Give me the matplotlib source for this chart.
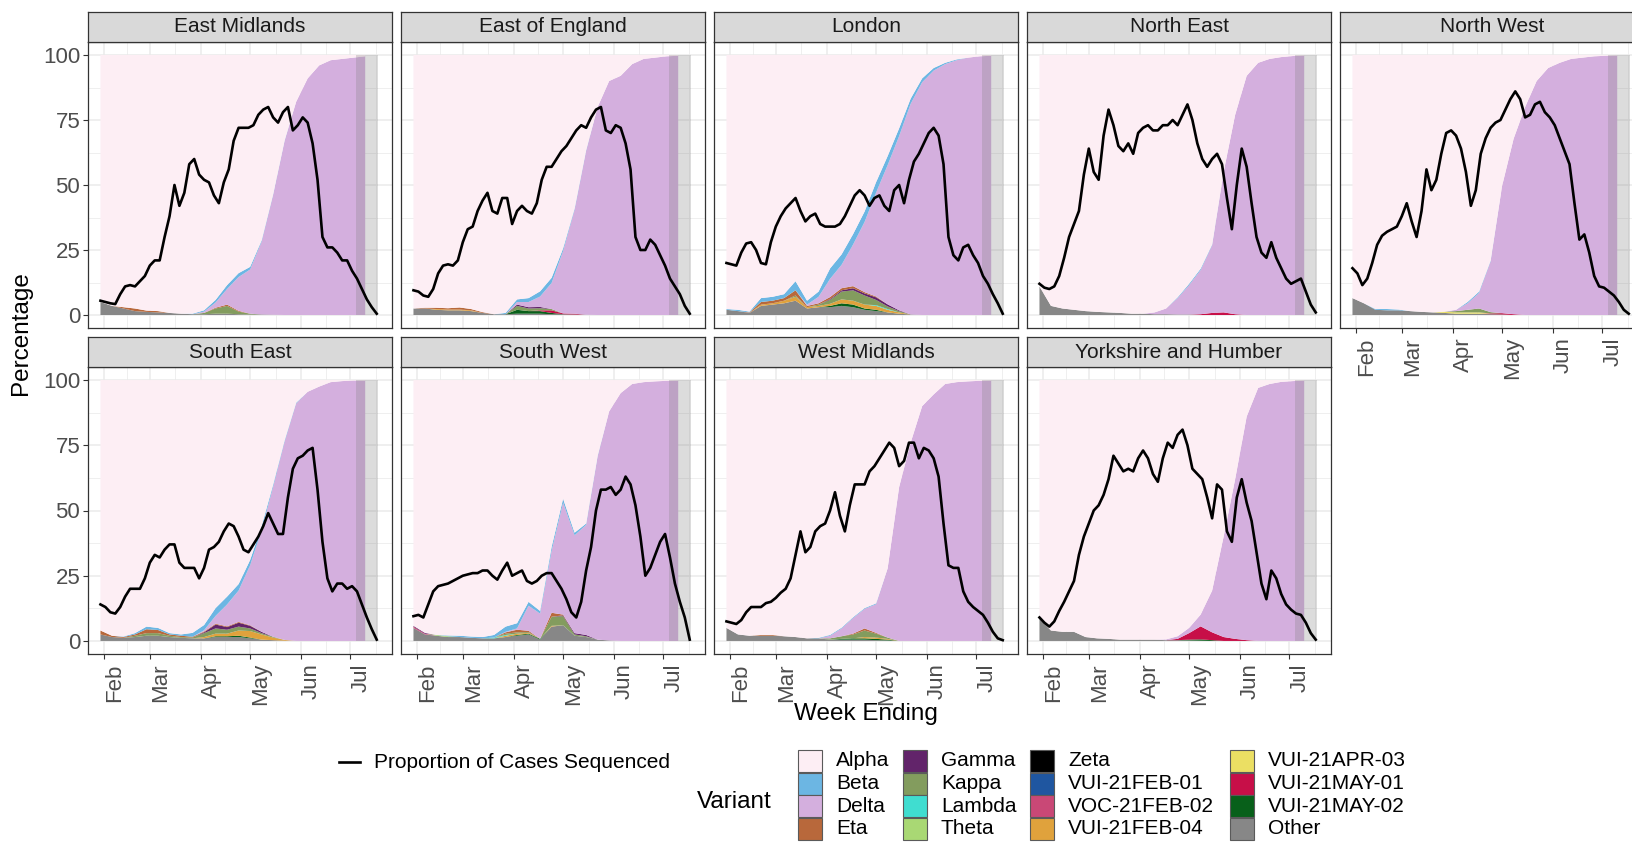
"""Weekly variant shares by English region with proportion of cases sequenced."""

import matplotlib
matplotlib.use("Agg")
import matplotlib.dates as mdates
import matplotlib.pyplot as plt
import numpy as np
import pandas as pd
from matplotlib.lines import Line2D
from matplotlib.patches import Rectangle
from matplotlib.ticker import FixedLocator

plt.rcParams["font.family"] = ["Liberation Sans", "DejaVu Sans"]

FIG_W, FIG_H = 1633, 842

VARIANTS = ["Alpha", "Beta", "Delta", "Eta", "Gamma", "Kappa", "Lambda", "Theta",
            "Zeta", "VUI-21FEB-01", "VOC-21FEB-02", "VUI-21FEB-04",
            "VUI-21APR-03", "VUI-21MAY-01", "VUI-21MAY-02", "Other"]
COLOURS = ["#FDEEF4", "#6CB6E3", "#D4AFDE", "#B8683B", "#62246A", "#839C5E",
           "#40DDD0", "#A9D874", "#000000", "#1F56A0", "#C94876", "#E0A23C",
           "#EBDF63", "#C70F48", "#08601A", "#878787"]

WEEKS = pd.date_range("2021-01-30", periods=24, freq="7D")
LINE_DATES = pd.date_range("2021-01-30", periods=57, freq="3D")
SHADE_START = pd.Timestamp("2021-07-04 06:00")
SHADE_END = pd.Timestamp("2021-07-17 18:00")
Y_TICKS = [0, 25, 50, 75, 100]

EAST_MIDLANDS = {
    "Alpha": [95, 96.5, 97, 97.5, 98.3, 98.5, 99.2, 99.5, 99.5, 98.2, 94.2, 88.5, 83.9, 81.5, 71.3, 53.6, 32.8, 18, 9, 4, 2, 1.5, 1, 0.5],
    "Beta": [0, 0, 0, 0, 0, 0, 0, 0, 0.2, 0.5, 1, 1.5, 1.5, 1, 0.5, 0.3, 0.2, 0, 0, 0, 0, 0, 0, 0],
    "Delta": [0, 0, 0, 0, 0, 0, 0, 0, 0, 0.5, 2, 6, 13, 17, 28, 46, 67, 82, 91, 96, 98, 98.5, 99, 99.5],
    "Eta": [0, 0, 0.5, 1, 0.5, 0.5, 0, 0, 0, 0, 0.3, 0.5, 0.3, 0, 0, 0, 0, 0, 0, 0, 0, 0, 0, 0],
    "Kappa": [0, 0, 0, 0, 0, 0, 0, 0, 0, 0.5, 2, 3, 1, 0.3, 0, 0, 0, 0, 0, 0, 0, 0, 0, 0],
    "Other": [5, 3.5, 2.5, 1.5, 1.2, 1, 0.8, 0.5, 0.3, 0.3, 0.5, 0.5, 0.3, 0.2, 0.2, 0.1, 0, 0, 0, 0, 0, 0, 0, 0],
}
EAST_MIDLANDS_SEQ = [5.5, 5, 4.5, 4.2, 8, 11, 11.5, 11, 13, 15, 19, 21, 21, 30, 38, 50, 42, 47, 58, 60,
                     54, 52, 51, 46, 43, 51, 56, 67, 72, 72, 72, 73, 77, 79, 80, 76, 74, 78, 80, 71,
                     73, 76, 74, 66, 52, 30, 26, 26, 24, 21, 21, 17, 14, 10, 6, 3, 0.5]

EAST_OF_ENGLAND = {
    "Alpha": [97.5, 97.2, 97.2, 97.4, 97.1, 97.7, 98.9, 99.7, 99.2, 94, 93.5, 90.9, 85.7, 74.4, 59, 36.6, 20, 10, 8, 3.5, 1.5, 1, 0.5, 0.3],
    "Beta": [0, 0, 0, 0, 0, 0, 0, 0, 0.5, 1, 1.5, 2, 2, 1, 0.5, 0.3, 0, 0, 0, 0, 0, 0, 0, 0],
    "Delta": [0, 0, 0, 0, 0, 0, 0, 0, 0, 1, 2, 4, 10, 24, 40, 63, 80, 90, 92, 96.5, 98.5, 99, 99.5, 99.7],
    "Eta": [0, 0.3, 0.5, 0.5, 0.8, 0.5, 0.3, 0, 0, 0, 0, 0, 0, 0, 0, 0, 0, 0, 0, 0, 0, 0, 0, 0],
    "Gamma": [0, 0, 0, 0, 0, 0, 0, 0, 0, 0.5, 0.5, 0.5, 0, 0, 0, 0, 0, 0, 0, 0, 0, 0, 0, 0],
    "Kappa": [0, 0, 0, 0, 0, 0, 0, 0, 0, 1.5, 1, 0.8, 0.5, 0, 0, 0, 0, 0, 0, 0, 0, 0, 0, 0],
    "VUI-21FEB-04": [0, 0, 0.3, 0.3, 0.3, 0.3, 0, 0, 0, 0, 0, 0, 0, 0, 0, 0, 0, 0, 0, 0, 0, 0, 0, 0],
    "VUI-21MAY-01": [0, 0, 0, 0, 0, 0, 0, 0, 0, 0, 0, 0.3, 1, 0.3, 0.3, 0, 0, 0, 0, 0, 0, 0, 0, 0],
    "VUI-21MAY-02": [0, 0, 0, 0, 0, 0, 0, 0, 0, 1.5, 1, 1, 0.5, 0, 0, 0, 0, 0, 0, 0, 0, 0, 0, 0],
    "Other": [2.5, 2.5, 2, 1.8, 1.8, 1.5, 0.8, 0.3, 0.3, 0.5, 0.5, 0.5, 0.3, 0.3, 0.2, 0.1, 0, 0, 0, 0, 0, 0, 0, 0],
}
EAST_OF_ENGLAND_SEQ = [9.5, 9, 7.5, 7, 10, 16, 19, 19.5, 19, 21, 28, 33, 34, 40, 44, 47, 40, 39, 45, 45,
                       35, 40, 42, 40, 39, 43, 52, 57, 57, 60, 63, 65, 68, 71, 73, 72, 76, 79, 80, 71,
                       70, 73, 72, 66, 56, 30, 25, 25, 29, 27, 23, 19, 14, 11, 8, 3.5, 0.5]

LONDON = {
    "Alpha": [97.7, 98, 98.7, 93.5, 93, 92, 87, 94.5, 91, 82.1, 76.7, 68.9, 60.2, 48.9, 38.9, 28.2, 16.8, 9, 5, 3, 1.7, 1, 0.5, 0.3],
    "Beta": [0.3, 0.5, 0.3, 1.5, 1.5, 1.5, 3.5, 1.5, 2, 4, 4, 4, 4, 4, 3.5, 3, 2, 1.5, 1, 0.5, 0.3, 0, 0, 0],
    "Delta": [0, 0, 0, 0, 0, 0, 0, 0.5, 2.5, 7, 9, 16, 27, 40, 53.5, 67, 81, 89.5, 94, 96.5, 98, 99, 99.5, 99.7],
    "Eta": [0, 0, 0.2, 1, 1, 1, 2, 0.5, 0.5, 0.8, 0.8, 0.8, 0.5, 0.3, 0, 0, 0, 0, 0, 0, 0, 0, 0, 0],
    "Gamma": [0, 0, 0, 0, 0, 0, 0, 0, 0, 0.3, 0.5, 0.8, 0.8, 1, 0.8, 0.3, 0, 0, 0, 0, 0, 0, 0, 0],
    "Kappa": [0, 0, 0, 0, 0, 0, 0.5, 0, 0.5, 1.5, 3, 4, 3.5, 2, 1, 0.5, 0, 0, 0, 0, 0, 0, 0, 0],
    "Lambda": [0, 0, 0, 0, 0, 0, 0, 0, 0, 0, 0, 0, 0, 0.3, 0.3, 0, 0, 0, 0, 0, 0, 0, 0, 0],
    "VUI-21FEB-04": [0, 0, 0, 0.5, 0.5, 1, 1.5, 0.5, 0.5, 0.8, 1.5, 1.5, 1.5, 1.5, 1, 0.5, 0, 0, 0, 0, 0, 0, 0, 0],
    "VUI-21MAY-02": [0, 0, 0, 0, 0, 0, 0, 0, 0, 0.5, 1, 1, 0.5, 0.5, 0, 0, 0, 0, 0, 0, 0, 0, 0, 0],
    "Other": [2, 1.5, 0.8, 3.5, 4, 4.5, 5.5, 2.5, 3, 3, 3.5, 3, 2, 1.5, 1, 0.5, 0.2, 0, 0, 0, 0, 0, 0, 0],
}
LONDON_SEQ = [20, 19.5, 19, 24, 27.5, 28, 25, 20, 19.5, 28, 34, 38, 41, 43, 45, 40, 36, 38, 39, 35,
              34, 34, 34, 35, 38, 42, 46, 48, 46, 42, 45, 46, 42, 40, 48, 50, 43, 52, 59, 62,
              66, 70, 72, 69, 58, 30, 23, 21, 26, 27, 23, 20, 15, 12, 8, 4.5, 0.5]

NORTH_EAST = {
    "Alpha": [89, 96.5, 97.5, 98, 98.5, 98.8, 99, 99.2, 99.5, 99.5, 99, 97.5, 93.2, 88, 82.2, 72.9, 45, 23, 8, 3, 1.5, 0.8, 0.4, 0.2],
    "Beta": [0, 0, 0, 0, 0, 0, 0, 0, 0, 0, 0, 0, 0.3, 0.5, 0.5, 0.3, 0, 0, 0, 0, 0, 0, 0, 0],
    "Delta": [0, 0, 0, 0, 0, 0, 0, 0, 0, 0, 0.7, 2.2, 6.3, 11.3, 17, 26, 54, 76.7, 92, 97, 98.5, 99.2, 99.6, 99.8],
    "VUI-21MAY-01": [0, 0, 0, 0, 0, 0, 0, 0, 0, 0, 0, 0, 0, 0, 0.3, 0.8, 1, 0.3, 0, 0, 0, 0, 0, 0],
    "Other": [11, 3.5, 2.5, 2, 1.5, 1.2, 1, 0.8, 0.5, 0.5, 0.3, 0.3, 0.2, 0.2, 0, 0, 0, 0, 0, 0, 0, 0, 0, 0],
}
NORTH_EAST_SEQ = [12, 10.5, 10, 11, 15, 22, 30, 35, 40, 54, 64, 55, 52, 69, 79, 73, 65, 63, 66, 62,
                  70, 72, 73, 71, 71, 73, 73, 75, 73, 77, 81, 75, 66, 60, 57, 60, 62, 58, 45, 33,
                  50, 64, 57, 43, 30, 24, 22, 28, 22, 18, 14, 12, 13, 14, 9, 4, 1]

NORTH_WEST = {
    "Alpha": [93.5, 95.5, 97.7, 97.7, 97.9, 98.5, 98.8, 99, 98.7, 98, 95, 91, 79.1, 50.3, 32.2, 20, 10, 5, 3, 1.5, 1, 0.5, 0.3, 0.2],
    "Beta": [0, 0, 0.3, 0.5, 0.3, 0, 0, 0, 0, 0, 0.5, 0.5, 0.3, 0, 0, 0, 0, 0, 0, 0, 0, 0, 0, 0],
    "Delta": [0, 0, 0, 0, 0, 0, 0, 0, 0, 0.5, 2.5, 6, 19.5, 49, 67.5, 80, 90, 95, 97, 98.5, 99, 99.5, 99.7, 99.8],
    "Kappa": [0, 0, 0, 0, 0, 0, 0, 0, 0, 0.5, 1, 1.5, 0.5, 0, 0, 0, 0, 0, 0, 0, 0, 0, 0, 0],
    "VUI-21APR-03": [0, 0, 0, 0, 0, 0, 0, 0, 0.5, 0.5, 0.5, 0.5, 0, 0, 0, 0, 0, 0, 0, 0, 0, 0, 0, 0],
    "VUI-21MAY-01": [0, 0, 0, 0, 0, 0, 0, 0, 0, 0, 0, 0, 0.3, 0.5, 0.3, 0, 0, 0, 0, 0, 0, 0, 0, 0],
    "Other": [6.5, 4.5, 2, 1.8, 1.8, 1.5, 1.2, 1, 0.8, 0.5, 0.5, 0.5, 0.3, 0.2, 0, 0, 0, 0, 0, 0, 0, 0, 0, 0],
}
NORTH_WEST_SEQ = [18, 16, 11.5, 14, 20, 27, 30.5, 32, 33, 34, 38, 43, 36, 30, 40, 56, 48, 52, 62, 70,
                  71, 69, 64, 55, 42, 48, 62, 68, 72, 74, 75, 79, 83, 86, 83, 76, 77, 81, 82, 78,
                  76, 73, 68, 63, 58, 43, 29, 31, 24, 15, 11, 10.5, 9, 7.5, 5, 2, 0.5]

SOUTH_EAST = {
    "Alpha": [96, 98, 98.3, 97, 94.5, 95, 97, 97.5, 96.9, 93.9, 87.4, 83, 78.2, 69, 56, 40.1, 23.1, 8.7, 4.5, 2.5, 0.8, 0.4, 0.2, 0.2],
    "Beta": [0, 0, 0.2, 0.5, 1, 0.8, 0.5, 0.5, 1.5, 2, 3, 3, 2.5, 2, 1.5, 0.8, 0.5, 0.3, 0, 0, 0, 0, 0, 0],
    "Delta": [0, 0, 0, 0, 0, 0, 0, 0, 0, 0.5, 3, 8.4, 12, 23, 39, 57.5, 76, 91, 95.5, 97.5, 99.2, 99.6, 99.8, 99.8],
    "Eta": [1.5, 0.5, 0.3, 0.5, 1.5, 1.2, 0.5, 0.5, 0.3, 0.3, 0.3, 0.3, 0.3, 0.2, 0, 0, 0, 0, 0, 0, 0, 0, 0, 0],
    "Gamma": [0, 0, 0, 0, 0, 0, 0, 0, 0, 0.3, 1.5, 1, 1.5, 1, 0.5, 0, 0, 0, 0, 0, 0, 0, 0, 0],
    "Kappa": [0, 0, 0, 0.5, 1, 1, 0.5, 0.3, 0.3, 1.5, 2, 1.5, 1.5, 1, 0.5, 0.3, 0, 0, 0, 0, 0, 0, 0, 0],
    "VUI-21FEB-04": [0, 0, 0, 0, 0, 0, 0, 0, 0, 0.5, 1, 1, 2, 2.5, 2, 1, 0.3, 0, 0, 0, 0, 0, 0, 0],
    "VUI-21MAY-02": [0, 0, 0, 0, 0, 0, 0, 0, 0, 0, 0.3, 0.3, 0.5, 0.3, 0, 0, 0, 0, 0, 0, 0, 0, 0, 0],
    "Other": [2.5, 1.5, 1.2, 1.5, 2, 2, 1.5, 1.2, 1, 1, 1.5, 1.5, 1.5, 1, 0.5, 0.3, 0.1, 0, 0, 0, 0, 0, 0, 0],
}
SOUTH_EAST_SEQ = [14, 13, 11, 10.5, 13, 17, 20, 20, 20, 24, 30, 33, 32, 35, 37, 37, 30, 28, 28, 28,
                  24, 28, 35, 36, 38, 42, 45, 44, 40, 35, 34, 37, 40, 44, 49, 45, 41, 41, 55, 66,
                  70, 71, 73, 74, 58, 38, 24, 19, 22, 22, 20, 21, 19, 14, 9, 4.5, 0.5]

SOUTH_WEST = {
    "Alpha": [94.2, 96.9, 97.7, 97.9, 98, 98.3, 98.5, 97.7, 94.5, 93.2, 85, 88.5, 64, 45.5, 58.5, 55, 29, 12, 5, 1.5, 0.8, 0.5, 0.3, 0.2],
    "Beta": [0, 0, 0, 0.3, 0.5, 0.5, 0.5, 1, 2, 2, 1.5, 1, 1.5, 1.5, 1, 0.5, 0.3, 0, 0, 0, 0, 0, 0, 0],
    "Delta": [0, 0, 0, 0, 0, 0, 0, 0, 0.2, 0.5, 9.6, 9.7, 23.7, 42.9, 37.5, 42.2, 70.2, 87.8, 95, 98.5, 99.2, 99.5, 99.7, 99.8],
    "Eta": [0, 0, 0, 0, 0, 0, 0, 0, 0.5, 1, 0.5, 0, 1.5, 0.3, 0, 0, 0, 0, 0, 0, 0, 0, 0, 0],
    "Gamma": [0.3, 0.3, 0, 0, 0, 0, 0, 0, 0, 0, 0, 0, 0, 0.3, 0.5, 0.5, 0, 0, 0, 0, 0, 0, 0, 0],
    "Kappa": [0, 0, 0, 0, 0, 0, 0, 0, 0.5, 0.5, 0.3, 0, 3.5, 3.5, 0.5, 0.3, 0, 0, 0, 0, 0, 0, 0, 0],
    "Lambda": [0, 0, 0, 0, 0, 0, 0, 0.3, 0.3, 0, 0, 0, 0, 0, 0, 0, 0, 0, 0, 0, 0, 0, 0, 0],
    "Theta": [0, 0, 0.3, 0.3, 0, 0, 0, 0, 0, 0, 0, 0, 0, 0, 0, 0, 0, 0, 0, 0, 0, 0, 0, 0],
    "VOC-21FEB-02": [0.5, 0.3, 0, 0, 0, 0, 0, 0, 0, 0, 0, 0, 0, 0, 0, 0, 0, 0, 0, 0, 0, 0, 0, 0],
    "VUI-21FEB-04": [0, 0, 0, 0, 0, 0, 0, 0, 0.5, 0.5, 0.3, 0, 0.3, 0, 0, 0, 0, 0, 0, 0, 0, 0, 0, 0],
    "VUI-21MAY-02": [0, 0, 0, 0, 0, 0, 0, 0, 0, 0.3, 0.3, 0.3, 0, 0, 0, 0, 0, 0, 0, 0, 0, 0, 0, 0],
    "Other": [5, 2.5, 2, 1.5, 1.5, 1.2, 1, 1, 1.5, 2, 2.5, 0.5, 5.5, 6, 2, 1.5, 0.5, 0.2, 0, 0, 0, 0, 0, 0],
}
SOUTH_WEST_SEQ = [9.5, 10, 9, 14, 19, 21, 21.5, 22, 23, 24, 25, 25.5, 26, 26, 27, 27, 25, 23.5, 27, 30,
                  25, 26, 27, 23, 22, 23, 25, 26, 26, 23, 20, 16, 11, 9, 15, 27, 36, 50, 58, 58,
                  59, 56, 58, 63, 60, 52, 40, 25, 28, 33, 38, 41, 32, 22, 15, 9, 0.5]

WEST_MIDLANDS = {
    "Alpha": [95, 97.5, 98, 97.7, 97.7, 98.2, 98.5, 99, 98.8, 97.7, 94.9, 90.9, 87.4, 85.6, 72.2, 41, 24, 10, 5.5, 1.5, 0.8, 0.5, 0.3, 0.2],
    "Beta": [0, 0, 0, 0, 0, 0, 0, 0, 0.2, 0.3, 0.3, 0.3, 0.3, 0.3, 0, 0, 0, 0, 0, 0, 0, 0, 0, 0],
    "Delta": [0, 0, 0, 0, 0, 0, 0, 0, 0, 1, 3, 6, 7.5, 11, 26.5, 59, 76, 90, 94.5, 98.5, 99.2, 99.5, 99.7, 99.8],
    "Eta": [0, 0, 0, 0.3, 0.3, 0, 0, 0, 0, 0, 0, 0.3, 0.8, 0.3, 0, 0, 0, 0, 0, 0, 0, 0, 0, 0],
    "Kappa": [0, 0, 0, 0, 0, 0, 0, 0, 0, 0.5, 1, 1.5, 2.5, 1.5, 0.5, 0, 0, 0, 0, 0, 0, 0, 0, 0],
    "VUI-21FEB-04": [0, 0, 0, 0, 0, 0, 0, 0, 0, 0, 0, 0, 0.5, 0.5, 0.3, 0, 0, 0, 0, 0, 0, 0, 0, 0],
    "VUI-21MAY-02": [0, 0, 0, 0, 0, 0, 0, 0, 0, 0, 0.3, 0.5, 0.5, 0.5, 0.3, 0, 0, 0, 0, 0, 0, 0, 0, 0],
    "Other": [5, 2.5, 2, 2, 2, 1.8, 1.5, 1, 1, 0.5, 0.5, 0.5, 0.5, 0.3, 0.2, 0, 0, 0, 0, 0, 0, 0, 0, 0],
}
WEST_MIDLANDS_SEQ = [7.5, 7, 6.5, 8, 11, 13, 13, 13, 14.5, 15, 16.5, 18.5, 20, 24, 33, 42, 34, 36, 42, 44,
                     45, 50, 57, 48, 42, 52, 60, 60, 60, 65, 67, 70, 73, 76, 74, 67, 69, 76, 76, 70,
                     74, 73, 70, 63, 45, 29, 28, 28, 19, 15, 13, 11.5, 10, 7, 3.5, 1, 0.3]

YORKSHIRE = {
    "Alpha": [91.5, 96, 96.5, 96.5, 98.5, 99, 99.2, 99.5, 99.5, 99.5, 99.5, 99.4, 98.2, 95, 89.9, 80.7, 60, 38, 14, 3, 1.5, 0.7, 0.4, 0.2],
    "Delta": [0, 0, 0, 0, 0, 0, 0, 0, 0, 0, 0, 0.3, 1, 2, 4.5, 16, 38.5, 61.2, 85.7, 97, 98.5, 99.3, 99.6, 99.8],
    "VUI-21MAY-01": [0, 0, 0, 0, 0, 0, 0, 0, 0, 0, 0, 0, 0.5, 2.5, 5, 3, 1.5, 0.8, 0.3, 0, 0, 0, 0, 0],
    "VUI-21MAY-02": [0, 0, 0, 0, 0, 0, 0, 0, 0, 0, 0, 0, 0, 0.3, 0.5, 0.3, 0, 0, 0, 0, 0, 0, 0, 0],
    "Other": [8.5, 4, 3.5, 3.5, 1.5, 1, 0.8, 0.5, 0.5, 0.5, 0.5, 0.3, 0.3, 0.2, 0.1, 0, 0, 0, 0, 0, 0, 0, 0, 0],
}
YORKSHIRE_SEQ = [9, 7, 5.5, 7.5, 11.5, 15, 19, 23, 33, 40, 45, 50, 52, 56, 62, 71, 68, 65, 66, 65,
                 70, 73, 70, 64, 61, 70, 76, 74, 79, 81, 75, 66, 64, 62, 55, 47, 60, 58, 42, 38,
                 55, 62, 53, 46, 34, 22, 16, 27, 24, 18, 14, 12, 10.5, 10, 7, 3, 0.5]

PANELS = [
    ("East Midlands", EAST_MIDLANDS, EAST_MIDLANDS_SEQ),
    ("East of England", EAST_OF_ENGLAND, EAST_OF_ENGLAND_SEQ),
    ("London", LONDON, LONDON_SEQ),
    ("North East", NORTH_EAST, NORTH_EAST_SEQ),
    ("North West", NORTH_WEST, NORTH_WEST_SEQ),
    ("South East", SOUTH_EAST, SOUTH_EAST_SEQ),
    ("South West", SOUTH_WEST, SOUTH_WEST_SEQ),
    ("West Midlands", WEST_MIDLANDS, WEST_MIDLANDS_SEQ),
    ("Yorkshire and Humber", YORKSHIRE, YORKSHIRE_SEQ),
]

# layout in pixels
COL_LEFT = [88, 401, 714, 1027, 1340]
PANEL_W = 304
STRIP_ROWS = [(12, 42), (337, 367)]
PANEL_ROWS = [(42, 328), (367, 654)]
X_LIM = (pd.Timestamp("2021-01-22 10:00"), pd.Timestamp("2021-07-26 07:00"))
EDGE = "#333333"
GRID = "#EBEBEB"
TICK_COLOR = "#4D4D4D"


def px_box(x0, y0, x1, y1):
    return [x0 / FIG_W, 1 - y1 / FIG_H, (x1 - x0) / FIG_W, (y1 - y0) / FIG_H]


def fx(x):
    return x / FIG_W


def fy(y):
    return 1 - y / FIG_H


month_starts = pd.date_range("2021-01-01", "2021-08-01", freq="MS")
minor_dates = month_starts[:-1] + (month_starts[1:] - month_starts[:-1]) / 2

fig = plt.figure(figsize=(FIG_W / 100, FIG_H / 100), dpi=100)

for i, (name, shares, seq) in enumerate(PANELS):
    row, col = divmod(i, 5)
    x0 = COL_LEFT[col]
    top, bottom = PANEL_ROWS[row]
    ax = fig.add_axes(px_box(x0, top, x0 + PANEL_W, bottom))
    ax.set_facecolor("white")

    lower = np.zeros(len(WEEKS))
    for variant, colour in zip(VARIANTS[::-1], COLOURS[::-1]):
        vals = np.array(shares.get(variant, [0] * len(WEEKS)), dtype=float)
        if not vals.any():
            continue
        upper = lower + vals
        ax.fill_between(WEEKS, lower, upper, facecolor=colour, linewidth=0, zorder=2)
        lower = upper

    ax.fill_between([SHADE_START, SHADE_END], 0, 100, color="grey", alpha=0.27,
                    linewidth=0, zorder=3)
    ax.plot(LINE_DATES, seq, color="black", linewidth=1.9, zorder=4,
            solid_joinstyle="round")

    ax.set_xlim(*X_LIM)
    ax.set_ylim(-5, 105)
    ax.xaxis.set_major_locator(mdates.MonthLocator())
    ax.xaxis.set_major_formatter(mdates.DateFormatter("%b"))
    ax.xaxis.set_minor_locator(FixedLocator(mdates.date2num(minor_dates.to_pydatetime())))
    ax.yaxis.set_major_locator(FixedLocator(Y_TICKS))
    ax.yaxis.set_minor_locator(FixedLocator([12.5, 37.5, 62.5, 87.5]))
    ax.set_axisbelow(True)
    ax.grid(which="major", color=GRID, linewidth=1.1, zorder=0)
    ax.grid(which="minor", color=GRID, linewidth=0.55, zorder=0)
    ax.tick_params(which="minor", length=0)
    ax.tick_params(which="major", color=EDGE, width=0.8, length=3.6,
                   labelcolor=TICK_COLOR, labelsize=16)
    for sp in ax.spines.values():
        sp.set_color(EDGE)
        sp.set_linewidth(0.9)
        sp.set_zorder(5)

    if col == 0:
        ax.tick_params(axis="y", pad=2)
    else:
        ax.tick_params(axis="y", which="both", length=0, labelleft=False)

    if row == 1 or col == 4:
        ax.tick_params(axis="x", pad=3)
        for lab in ax.get_xticklabels():
            lab.set_rotation(90)
            lab.set_va("top")
            lab.set_ha("left")
    else:
        ax.tick_params(axis="x", which="both", length=0, labelbottom=False)

    s0, s1 = STRIP_ROWS[row]
    strip = fig.add_axes(px_box(x0, s0, x0 + PANEL_W, s1))
    strip.set_facecolor("#D9D9D9")
    strip.set_xticks([])
    strip.set_yticks([])
    for sp in strip.spines.values():
        sp.set_color(EDGE)
        sp.set_linewidth(0.9)
    strip.text(0.5, 0.5, name, ha="center", va="center", fontsize=15,
               color="#1A1A1A", transform=strip.transAxes)

fig.text(fx(21), fy(333), "Percentage", rotation=90, ha="center", va="center",
         fontsize=17.5, color="black")
fig.text(fx(866), fy(714), "Week Ending", ha="center", va="center",
         fontsize=17.5, color="black")

# legend: line
fig.add_artist(Line2D([fx(339), fx(360)], [fy(762), fy(762)], color="black",
                      linewidth=1.9, transform=fig.transFigure))
fig.text(fx(374), fy(762), "Proportion of Cases Sequenced", ha="left", va="center",
         fontsize=15, color="black")

# legend: variants
fig.text(fx(697), fy(802), "Variant", ha="left", va="center", fontsize=17.5, color="black")
KEY_LEFT = [798, 903, 1030, 1230]
ROW_CENTER = [761, 783.5, 806, 828.5]
for k, (variant, colour) in enumerate(zip(VARIANTS, COLOURS)):
    c, r = divmod(k, 4)
    kx = KEY_LEFT[c]
    ky = ROW_CENTER[r]
    fig.add_artist(Rectangle((fx(kx), fy(ky + 11)), 24 / FIG_W, 22 / FIG_H,
                             facecolor=colour, edgecolor="#5A5A5A", linewidth=0.8,
                             transform=fig.transFigure))
    fig.text(fx(kx + 38), fy(ky), variant, ha="left", va="center", fontsize=15,
             color="black")

fig.savefig("out.png", dpi=100)
